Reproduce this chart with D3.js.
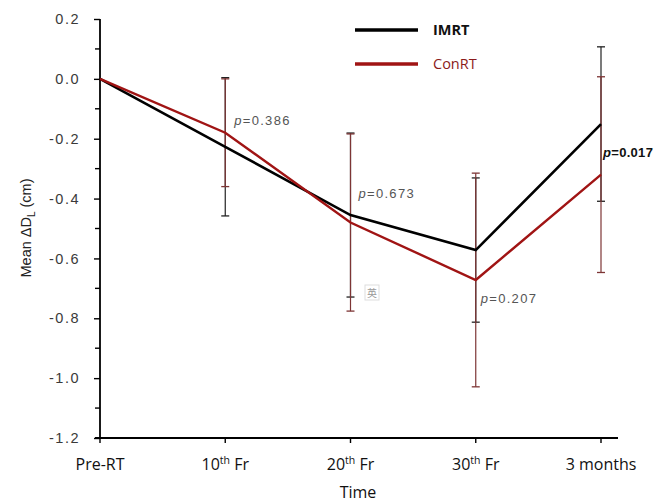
<!DOCTYPE html>
<html>
<head>
<meta charset="utf-8">
<script src="https://cdn.jsdelivr.net/npm/d3@7"></script>
<style>
  html, body { margin: 0; padding: 0; background: #fff; }
  svg { display: block; }
</style>
</head>
<body>
<svg id="chart" width="661" height="502"></svg>
<script>
// ---- data ----
const categories = ["Pre-RT", "10th Fr", "20th Fr", "30th Fr", "3 months"];
const imrtMean = [0, -0.227, -0.455, -0.572, -0.151];
const imrtSD   = [0, 0.231, 0.274, 0.241, 0.258];
const conMean  = [0, -0.18, -0.48, -0.672, -0.32];
const conSD    = [0, 0.18, 0.296, 0.357, 0.327];
const pValues  = [null, "0.386", "0.673", "0.207", "0.017"];
const yTicks   = [0.2, 0.0, -0.2, -0.4, -0.6, -0.8, -1.0, -1.2];
const seriesNames = ["IMRT", "ConRT"];

const svg = d3.select("#chart");
const x = d3.scalePoint().domain(categories).range([100, 601]).padding(0);
const y = d3.scaleLinear().domain([-1.2, 0.2]).range([438, 19]);

const black = "#000000", red = "#a01414", redBar = "#7d3535";

// ---- axes ----
const yAxis = d3.axisLeft(y).tickValues(yTicks).tickSize(6).tickPadding(14)
  .tickFormat(d => d3.format(".1f")(d).replace("−", "-"));
const gy = svg.append("g").attr("transform", "translate(100,0)").call(yAxis);
gy.select(".domain").attr("stroke", "#000").attr("stroke-width", 1.8).attr("d", "M0,19V438");
gy.selectAll(".tick line").attr("stroke", "#000").attr("stroke-width", 1.4);
gy.selectAll(".tick text").attr("font-family", "Liberation Sans, Arial, sans-serif")
  .attr("font-size", 14.5).attr("fill", "#3a3a3a").attr("letter-spacing", "1.5px");
// minor y ticks
const minor = d3.range(-11, 2, 2).map(v => v / 10);
svg.append("g").selectAll("line").data(minor).join("line")
  .attr("x1", 95).attr("x2", 100).attr("y1", d => y(d)).attr("y2", d => y(d))
  .attr("stroke", "#000").attr("stroke-width", 1.4);

// x axis
svg.append("line").attr("x1", 95).attr("x2", 618).attr("y1", y(-1.2)).attr("y2", y(-1.2))
  .attr("stroke", "#000").attr("stroke-width", 1.8);
const gx = svg.append("g");
gx.selectAll("line").data(categories).join("line")
  .attr("x1", d => x(d)).attr("x2", d => x(d))
  .attr("y1", y(-1.2)).attr("y2", y(-1.2) + 5)
  .attr("stroke", "#000").attr("stroke-width", 1.4);
const xl = gx.selectAll("text").data(categories).join("text")
  .attr("x", d => x(d)).attr("y", 470).attr("text-anchor", "middle")
  .attr("font-family", "Open Sans, sans-serif").attr("font-size", 16).attr("fill", "#111");
xl.each(function(d) {
  const t = d3.select(this);
  const m = d.match(/^(\d+)(th)( .*)$/);
  if (m) {
    t.append("tspan").text(m[1]);
    t.append("tspan").text(m[2]).attr("font-size", 10.5).attr("dy", -6);
    t.append("tspan").text(m[3]).attr("dy", 6);
  } else t.text(d);
});
svg.append("text").attr("x", 358).attr("y", 498).attr("text-anchor", "middle")
  .attr("font-family", "Open Sans, sans-serif").attr("font-size", 16).attr("fill", "#111").text("Time");

// y label
const yl = svg.append("text").attr("transform", "translate(31,228) rotate(-90)")
  .attr("text-anchor", "middle").attr("font-family", "Liberation Sans, Arial, sans-serif")
  .attr("font-size", 14.5).attr("fill", "#222");
yl.append("tspan").text("Mean \u0394D");
yl.append("tspan").text("L").attr("font-size", 10).attr("dy", 4);
yl.append("tspan").text(" (cm)").attr("dy", -4);

// ---- error bars ----
function errorBars(means, sds, color) {
  const g = svg.append("g");
  const data = categories.map((c, i) => ({c, m: means[i], s: sds[i]})).filter(d => d.s > 0);
  g.selectAll("line.v").data(data).join("line").attr("class", "v")
    .attr("x1", d => x(d.c)).attr("x2", d => x(d.c))
    .attr("y1", d => y(d.m + d.s)).attr("y2", d => y(d.m - d.s))
    .attr("stroke", color).attr("stroke-width", 1.2);
  ["up", "dn"].forEach(k => {
    g.selectAll("line." + k).data(data).join("line").attr("class", k)
      .attr("x1", d => x(d.c) - 4).attr("x2", d => x(d.c) + 4)
      .attr("y1", d => y(k === "up" ? d.m + d.s : d.m - d.s))
      .attr("y2", d => y(k === "up" ? d.m + d.s : d.m - d.s))
      .attr("stroke", color).attr("stroke-width", 1.3);
  });
}
errorBars(imrtMean, imrtSD, "#222");
errorBars(conMean, conSD, redBar);

// ---- lines ----
const line = d3.line().x((d, i) => x(categories[i])).y(d => y(d));
svg.append("path").datum(imrtMean).attr("d", line).attr("fill", "none")
  .attr("stroke", black).attr("stroke-width", 2.6);
svg.append("path").datum(conMean).attr("d", line).attr("fill", "none")
  .attr("stroke", red).attr("stroke-width", 2.4);

// ---- p-value annotations ----
const pOff = [null, {dx: 9, dy: -8, ref: "con"}, {dx: 8, dy: -17, ref: "imrt"}, {dx: 5, dy: 23, ref: "con"}, {dx: 2, dy: 33, ref: "imrt"}];
pValues.forEach((p, i) => {
  if (!p) return;
  const o = pOff[i];
  const base = o.ref === "con" ? conMean[i] : imrtMean[i];
  const bold = i === 4;
  const t = svg.append("text")
    .attr("x", x(categories[i]) + o.dx)
    .attr("y", y(base) + o.dy)
    .attr("font-family", "Liberation Sans, Arial, sans-serif").attr("font-size", 13)
    .attr("fill", bold ? "#111" : "#555").attr("font-weight", bold ? "bold" : "normal")
    .attr("letter-spacing", bold ? "0.3px" : "1.3px");
  t.append("tspan").text("p").attr("font-style", "italic");
  t.append("tspan").text("=" + p);
});

// stray glyph box
svg.append("rect").attr("x", 365).attr("y", 285).attr("width", 14).attr("height", 15)
  .attr("fill", "#fff").attr("stroke", "#ddd").attr("stroke-width", 1);
svg.append("text").attr("x", 372).attr("y", 297).attr("text-anchor", "middle")
  .attr("font-family", "Noto Sans CJK SC").attr("font-size", 10).attr("fill", "#999").text("英");

// ---- legend ----
const legColors = [black, red];
const legY = [30, 64];
seriesNames.forEach((n, i) => {
  svg.append("line").attr("x1", 355).attr("x2", 418).attr("y1", legY[i]).attr("y2", legY[i])
    .attr("stroke", legColors[i]).attr("stroke-width", 3.5);
  svg.append("text").attr("x", 433).attr("y", legY[i] + 5)
    .attr("font-family", "Open Sans, sans-serif").attr("font-size", 14.5)
    .attr("font-weight", i === 0 ? "bold" : "normal")
    .attr("fill", i === 0 ? "#111" : "#8b1a1a").text(n);
});
</script>
</body>
</html>
